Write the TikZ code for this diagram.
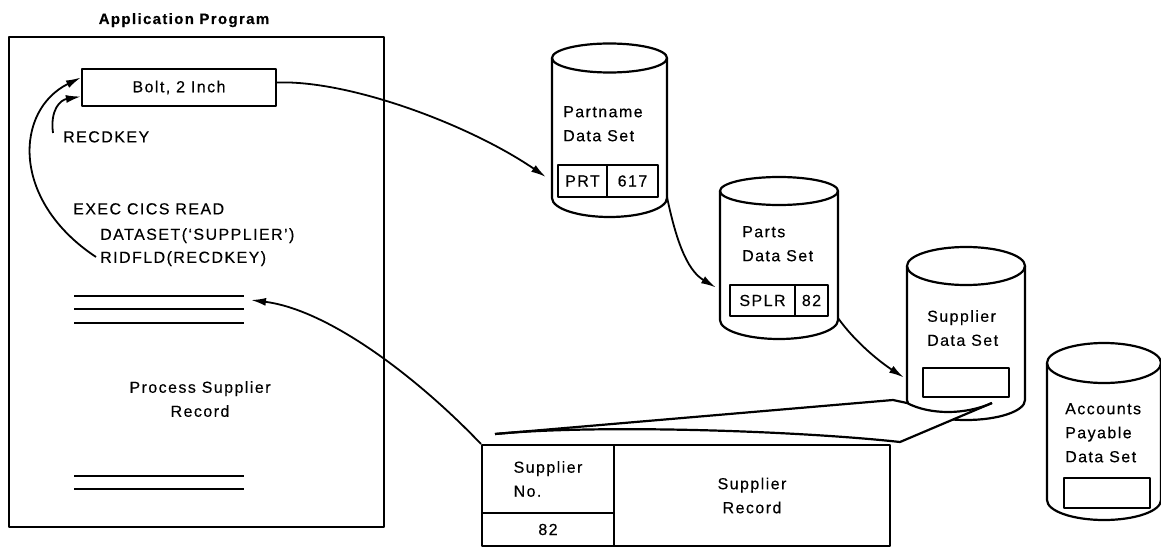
\documentclass[tikz,border=0pt]{standalone}
\usepackage{fontspec}
\setmainfont{Liberation Sans}[LetterSpace=9, FakeBold=0.35]
\usetikzlibrary{arrows.meta}

% cylinder: centre x, top ellipse y, bottom arc y, x radius, top y radius, bottom y radius
\newcommand\drumshape[6]{%
  \draw[outline] (#1-#4,#2) -- (#1-#4,#3)
    arc[start angle=180, end angle=360, x radius=#4pt, y radius=#6pt]
    -- (#1+#4,#2);
  \draw[outline] (#1,#2) ellipse [x radius=#4pt, y radius=#5pt];
}

\begin{document}
\begin{tikzpicture}[x=1pt, y=-1pt,
  outline/.style={line width=2.2pt, line join=round},
  lbl/.style={inner sep=0pt, font=\fontsize{16}{24}\selectfont, align=left},
  cell/.style={draw, outline, inner sep=0pt, font=\fontsize{16}{24}\selectfont},
  arr/.style={line width=1.8pt, -{Latex[length=15pt,width=8pt]}},
  rule/.style={line width=2.2pt}]
\useasboundingbox (0,0) rectangle (1161,548);

% ---- application program ----
\node[font=\bfseries\fontsize{15}{18}\selectfont, inner sep=0pt, anchor=base] (title) at (184,24) {Application Program};
\node[draw, outline, minimum width=375pt, minimum height=490pt, inner sep=0pt] (appbox) at (196.5,282) {};
\node[cell, minimum width=194pt, minimum height=37pt] (bolt) at (179,87.5) {Bolt, 2 Inch};
\node[lbl, anchor=north west] (recdkey) at (63,131) {RECDKEY};
\node[lbl, anchor=north west] (exec) at (73,203) {EXEC CICS READ};
\node[lbl, anchor=north west] (dataset) at (100,228) {DATASET(‘SUPPLIER’)};
\node[lbl, anchor=north west] (ridfld) at (100,251) {RIDFLD(RECDKEY)};
\node[lbl, align=center, anchor=north] (process) at (200,381) {Process Supplier\\Record};

\coordinate (l1w) at (74,296);  \coordinate (l1e) at (244,296);
\coordinate (l2w) at (74,309);  \coordinate (l2e) at (244,309);
\coordinate (l3w) at (74,323);  \coordinate (l3e) at (244,323);
\coordinate (l4w) at (74,476);  \coordinate (l4e) at (244,476);
\coordinate (l5w) at (74,489);  \coordinate (l5e) at (244,489);
\draw[rule] (l1w) -- (l1e);
\draw[rule] (l2w) -- (l2e);
\draw[rule] (l3w) -- (l3e);
\draw[rule] (l4w) -- (l4e);
\draw[rule] (l5w) -- (l5e);

\coordinate (execTail) at (96,257);
\coordinate (keyTail) at (53,133);
\draw[arr] (execTail) .. controls (10,200) and (15,110) .. ([yshift=10pt]bolt.west);
\draw[arr] (keyTail) .. controls (50,110) and (60,100) .. ([yshift=-9pt]bolt.west);

% ---- data sets ----
\drumshape{609.5}{58}{198}{57.5}{14.5}{19}
\drumshape{779}{191}{320}{59}{14}{19}
\drumshape{966}{266}{400}{59}{19}{20}
\drumshape{1104}{363}{500}{57}{20}{20}

\node[lbl, anchor=north west] (partname) at (563,106) {Partname\\Data Set};
\node[cell, minimum width=49pt, minimum height=32pt] (prt) at (582.5,181) {PRT};
\node[cell, minimum width=51pt, minimum height=32pt] (n617) at (632.5,181) {617};

\node[lbl, anchor=north west] (parts) at (742,226) {Parts\\Data Set};
\node[cell, minimum width=65pt, minimum height=31pt] (splr) at (762.5,300.5) {SPLR};
\node[cell, minimum width=33pt, minimum height=31pt] (n82) at (811.5,300.5) {82};

\node[lbl, anchor=north west] (supplier) at (927,310) {Supplier\\Data Set};
\node[cell, minimum width=86pt, minimum height=29pt] (supslot) at (966,382.5) {};

\node[lbl, anchor=north west] (accounts) at (1065,403) {Accounts\\Payable\\Data Set};
\node[cell, minimum width=86pt, minimum height=30pt] (acslot) at (1107,493) {};

% record pulled out of the supplier data set
\fill[white] (495,434) -- (893,400) -- (907,403)
  .. controls (930,415) and (965,415) .. (992,403) -- (900,442)
  .. controls (800,431) and (600,424) .. (495,434) -- cycle;
\draw[outline] (495,434) -- (893,400) -- (907,403)
  .. controls (930,415) and (965,415) .. (992,403);
\draw[outline] (495,434) .. controls (600,424) and (800,431) .. (900,442) -- (992,403);

% ---- supplier record ----
\node[cell, minimum width=132pt, minimum height=68pt, align=left] (supno) at (548,479) {Supplier\\No.};
\node[cell, minimum width=132pt, minimum height=33pt] (val82) at (548,529.5) {82};
\node[cell, minimum width=276pt, minimum height=101pt, align=center] (suprec) at (752,495.5) {Supplier\\Record};

% ---- connectors ----
\coordinate (pnOut) at (667,197);
\coordinate (ptOut) at (838,318);
\draw[arr] ([yshift=5pt]bolt.east) .. controls (350,80) and (470,125) .. ([shift={(-11pt,4pt)}]prt.west);
\draw[arr] (pnOut) .. controls (678,250) and (690,272) .. ([shift={(-13pt,13pt)}]splr.west);
\draw[arr] (ptOut) .. controls (855,342) and (880,362) .. ([shift={(-18pt,5pt)}]supslot.west);
\draw[arr] (supno.north west) .. controls (420,380) and (330,310) .. ([shift={(7pt,-4pt)}]l1e);
\end{tikzpicture}
\end{document}
